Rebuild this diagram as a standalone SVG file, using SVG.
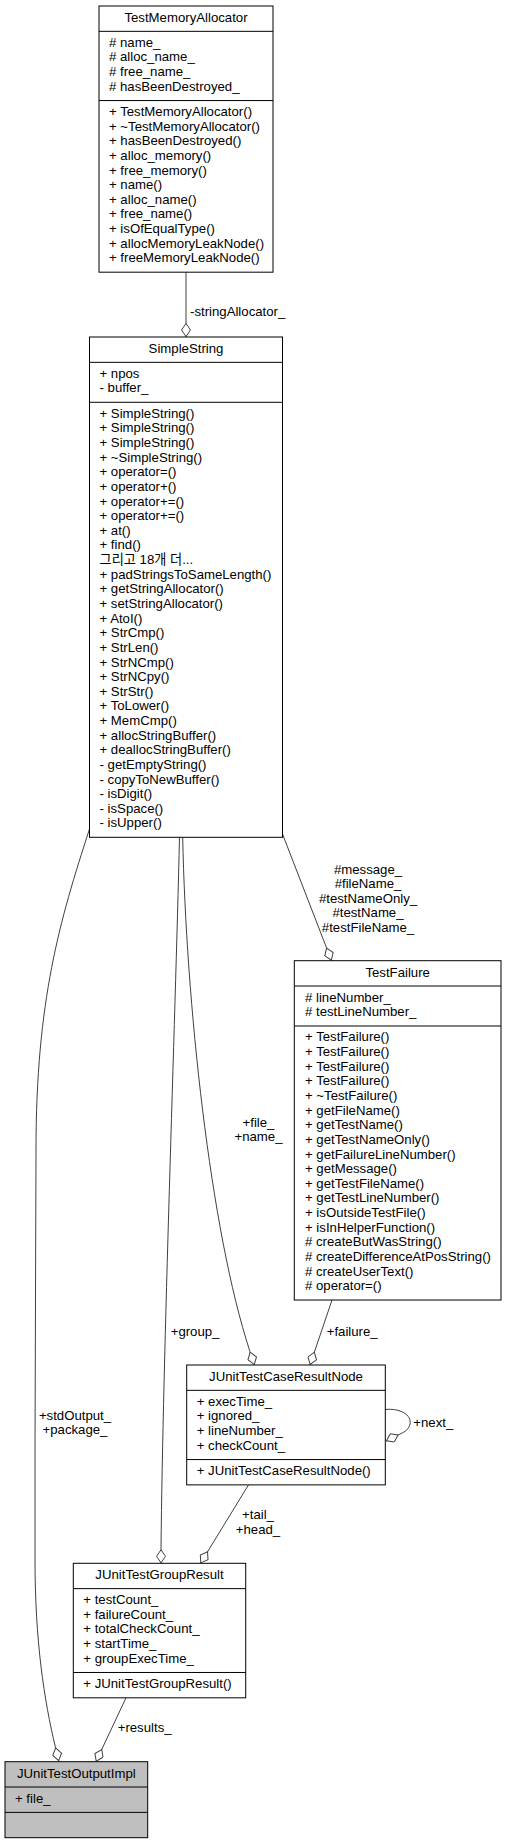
<svg xmlns="http://www.w3.org/2000/svg" width="507" height="1844" viewBox="0 0 507 1844">
<style>
.box{fill:#fff;stroke:#000;stroke-width:1}
.root{fill:#bfbfbf}
.sep{stroke:#000;stroke-width:1}
text{font-family:"Liberation Sans","Noto Sans CJK KR",sans-serif;font-size:13.2px;fill:#000}
.t{text-anchor:middle}
.e{fill:none;stroke:#404040;stroke-width:1;marker-end:url(#dia)}
</style>
<defs>
<marker id="dia" viewBox="0 0 14 10" refX="14" refY="5" markerWidth="14" markerHeight="10" markerUnits="userSpaceOnUse" orient="auto">
<path d="M0.5,5 L7,0.5 L13.5,5 L7,9.5 Z" fill="#fff" stroke="#404040" stroke-width="1"/>
</marker>
</defs>
<rect width="507" height="1844" fill="#fff"/>

<g id="connectors">
<path class="e" d="M186,272.2 L186,337"/>
<path class="e" d="M282.5,834 L331.5,960.7"/>
<path class="e" d="M89.5,829 C60,920 36,1000 36,1150 L35,1450 L35,1560 C35,1640 44,1700 55.5,1747.5 L58.8,1761.1"/>
<path class="e" d="M179.5,837.3 C175,1030 163,1350 161,1549.3 L161,1563.3"/>
<path class="e" d="M182.7,837.3 C186,1000 210,1230 250,1351.7 L254.4,1365"/>
<path class="e" d="M332,1300 L310,1365"/>
<path class="e" d="M248.5,1484.9 L200.5,1563.3"/>
<path class="e" d="M385.3,1409.5 C400,1408 412,1415 410,1424 C409,1429 405,1432 399,1434.5 L386,1441"/>
<path class="e" d="M126,1697.8 L96,1761.7"/>
<text x="190" y="315.5">-stringAllocator_</text>
<text class="t" x="368" y="873.5">#message_</text>
<text class="t" x="368" y="888.1">#fileName_</text>
<text class="t" x="368" y="902.7">#testNameOnly_</text>
<text class="t" x="368" y="917.3">#testName_</text>
<text class="t" x="368" y="932">#testFileName_</text>
<text class="t" x="258.5" y="1126.7">+file_</text>
<text class="t" x="258.5" y="1140.7">+name_</text>
<text class="t" x="75" y="1419.5">+stdOutput_</text>
<text class="t" x="75" y="1434">+package_</text>
<text x="170.7" y="1335.5">+group_</text>
<text x="326.7" y="1335.5">+failure_</text>
<text x="413.3" y="1427.3">+next_</text>
<text class="t" x="258" y="1519">+tail_</text>
<text class="t" x="258" y="1534">+head_</text>
<text x="117.7" y="1731.7">+results_</text>
</g>

<g id="TestMemoryAllocator">
<rect class="box" x="99" y="6" width="174" height="266.18"/>
<line class="sep" x1="99" y1="31.33" x2="273" y2="31.33"/>
<line class="sep" x1="99" y1="100.55" x2="273" y2="100.55"/>
<text class="t" x="186" y="22">TestMemoryAllocator</text>
<text x="109" y="46.83"># name_</text>
<text x="109" y="61.46"># alloc_name_</text>
<text x="109" y="76.09"># free_name_</text>
<text x="109" y="90.72"># hasBeenDestroyed_</text>
<text x="109" y="116.05">+ TestMemoryAllocator()</text>
<text x="109" y="130.68">+ ~TestMemoryAllocator()</text>
<text x="109" y="145.31">+ hasBeenDestroyed()</text>
<text x="109" y="159.94">+ alloc_memory()</text>
<text x="109" y="174.57">+ free_memory()</text>
<text x="109" y="189.2">+ name()</text>
<text x="109" y="203.83">+ alloc_name()</text>
<text x="109" y="218.46">+ free_name()</text>
<text x="109" y="233.09">+ isOfEqualType()</text>
<text x="109" y="247.72">+ allocMemoryLeakNode()</text>
<text x="109" y="262.35">+ freeMemoryLeakNode()</text>
</g>

<g id="SimpleString">
<rect class="box" x="89.5" y="337" width="193" height="500.29"/>
<line class="sep" x1="89.5" y1="362.33" x2="282.5" y2="362.33"/>
<line class="sep" x1="89.5" y1="402.29" x2="282.5" y2="402.29"/>
<text class="t" x="186" y="353">SimpleString</text>
<text x="99.5" y="377.83">+ npos</text>
<text x="99.5" y="392.46">- buffer_</text>
<text x="99.5" y="417.79">+ SimpleString()</text>
<text x="99.5" y="432.42">+ SimpleString()</text>
<text x="99.5" y="447.05">+ SimpleString()</text>
<text x="99.5" y="461.68">+ ~SimpleString()</text>
<text x="99.5" y="476.31">+ operator=()</text>
<text x="99.5" y="490.94">+ operator+()</text>
<text x="99.5" y="505.57">+ operator+=()</text>
<text x="99.5" y="520.2">+ operator+=()</text>
<text x="99.5" y="534.83">+ at()</text>
<text x="99.5" y="549.46">+ find()</text>
<text x="99.5" y="564.09">그리고 18개 더...</text>
<text x="99.5" y="578.72">+ padStringsToSameLength()</text>
<text x="99.5" y="593.35">+ getStringAllocator()</text>
<text x="99.5" y="607.98">+ setStringAllocator()</text>
<text x="99.5" y="622.61">+ AtoI()</text>
<text x="99.5" y="637.24">+ StrCmp()</text>
<text x="99.5" y="651.87">+ StrLen()</text>
<text x="99.5" y="666.5">+ StrNCmp()</text>
<text x="99.5" y="681.13">+ StrNCpy()</text>
<text x="99.5" y="695.76">+ StrStr()</text>
<text x="99.5" y="710.39">+ ToLower()</text>
<text x="99.5" y="725.02">+ MemCmp()</text>
<text x="99.5" y="739.65">+ allocStringBuffer()</text>
<text x="99.5" y="754.28">+ deallocStringBuffer()</text>
<text x="99.5" y="768.91">- getEmptyString()</text>
<text x="99.5" y="783.54">- copyToNewBuffer()</text>
<text x="99.5" y="798.17">- isDigit()</text>
<text x="99.5" y="812.8">- isSpace()</text>
<text x="99.5" y="827.43">- isUpper()</text>
</g>

<g id="TestFailure">
<rect class="box" x="294.3" y="960.7" width="206.7" height="339.33"/>
<line class="sep" x1="294.3" y1="986.03" x2="501" y2="986.03"/>
<line class="sep" x1="294.3" y1="1025.99" x2="501" y2="1025.99"/>
<text class="t" x="397.65" y="976.7">TestFailure</text>
<text x="305" y="1001.53"># lineNumber_</text>
<text x="305" y="1016.16"># testLineNumber_</text>
<text x="305" y="1041.49">+ TestFailure()</text>
<text x="305" y="1056.12">+ TestFailure()</text>
<text x="305" y="1070.75">+ TestFailure()</text>
<text x="305" y="1085.38">+ TestFailure()</text>
<text x="305" y="1100.01">+ ~TestFailure()</text>
<text x="305" y="1114.64">+ getFileName()</text>
<text x="305" y="1129.27">+ getTestName()</text>
<text x="305" y="1143.9">+ getTestNameOnly()</text>
<text x="305" y="1158.53">+ getFailureLineNumber()</text>
<text x="305" y="1173.16">+ getMessage()</text>
<text x="305" y="1187.79">+ getTestFileName()</text>
<text x="305" y="1202.42">+ getTestLineNumber()</text>
<text x="305" y="1217.05">+ isOutsideTestFile()</text>
<text x="305" y="1231.68">+ isInHelperFunction()</text>
<text x="305" y="1246.31"># createButWasString()</text>
<text x="305" y="1260.94"># createDifferenceAtPosString()</text>
<text x="305" y="1275.57"># createUserText()</text>
<text x="305" y="1290.2"># operator=()</text>
</g>

<g id="JUnitTestCaseResultNode">
<rect class="box" x="186.7" y="1365" width="198.6" height="119.88"/>
<line class="sep" x1="186.7" y1="1390.33" x2="385.3" y2="1390.33"/>
<line class="sep" x1="186.7" y1="1459.55" x2="385.3" y2="1459.55"/>
<text class="t" x="286" y="1381">JUnitTestCaseResultNode</text>
<text x="196.7" y="1405.83">+ execTime_</text>
<text x="196.7" y="1420.46">+ ignored_</text>
<text x="196.7" y="1435.09">+ lineNumber_</text>
<text x="196.7" y="1449.72">+ checkCount_</text>
<text x="196.7" y="1475.05">+ JUnitTestCaseResultNode()</text>
</g>

<g id="JUnitTestGroupResult">
<rect class="box" x="73.3" y="1563.3" width="172.4" height="134.51"/>
<line class="sep" x1="73.3" y1="1588.63" x2="245.7" y2="1588.63"/>
<line class="sep" x1="73.3" y1="1672.48" x2="245.7" y2="1672.48"/>
<text class="t" x="159.5" y="1579.3">JUnitTestGroupResult</text>
<text x="83.3" y="1604.13">+ testCount_</text>
<text x="83.3" y="1618.76">+ failureCount_</text>
<text x="83.3" y="1633.39">+ totalCheckCount_</text>
<text x="83.3" y="1648.02">+ startTime_</text>
<text x="83.3" y="1662.65">+ groupExecTime_</text>
<text x="83.3" y="1687.98">+ JUnitTestGroupResult()</text>
</g>

<g id="JUnitTestOutputImpl">
<rect class="box root" x="5" y="1761.7" width="142.7" height="75.99"/>
<line class="sep" x1="5" y1="1787.03" x2="147.7" y2="1787.03"/>
<line class="sep" x1="5" y1="1812.36" x2="147.7" y2="1812.36"/>
<text class="t" x="76.35" y="1777.7">JUnitTestOutputImpl</text>
<text x="15" y="1802.53">+ file_</text>
</g>
</svg>
